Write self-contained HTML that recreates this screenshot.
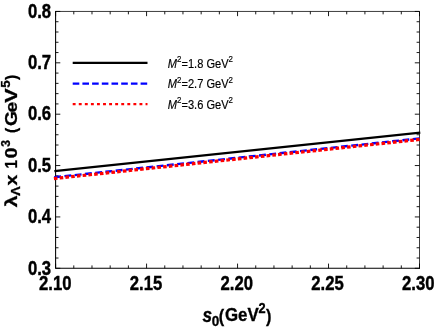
<!DOCTYPE html>
<html><head><meta charset="utf-8"><title>plot</title>
<style>
html,body{margin:0;padding:0;background:#fff;}
svg{display:block;will-change:transform;font-family:"Liberation Sans",sans-serif;}
.tk{font-size:16.7px;font-weight:bold;fill:#000;stroke:#000;stroke-width:0.35px;}
.lg{font-size:11.1px;fill:#000;stroke:#000;stroke-width:0.15px;}
.ax{font-size:17.3px;font-weight:bold;fill:#000;stroke:#000;stroke-width:0.3px;}
.ay{font-weight:bold;fill:#000;stroke:#000;stroke-width:0.3px;}
</style></head><body>
<svg width="436" height="327" viewBox="0 0 436 327">
<rect width="436" height="327" fill="#fff"/>
<path d="M55.60 11.45V268.30H419.50" fill="none" stroke="#000" stroke-width="1.05" stroke-linecap="square"/>
<path d="M55.60 11.45H419.50V268.30" fill="none" stroke="#1a1a1a" stroke-width="0.85" stroke-linecap="square"/>
<path d="M55.60 268.30v-4.7M55.60 11.45v4.7M73.79 268.30v-2.9M73.79 11.45v2.9M91.99 268.30v-2.9M91.99 11.45v2.9M110.18 268.30v-2.9M110.18 11.45v2.9M128.38 268.30v-2.9M128.38 11.45v2.9M146.57 268.30v-4.7M146.57 11.45v4.7M164.77 268.30v-2.9M164.77 11.45v2.9M182.96 268.30v-2.9M182.96 11.45v2.9M201.16 268.30v-2.9M201.16 11.45v2.9M219.35 268.30v-2.9M219.35 11.45v2.9M237.55 268.30v-4.7M237.55 11.45v4.7M255.74 268.30v-2.9M255.74 11.45v2.9M273.94 268.30v-2.9M273.94 11.45v2.9M292.13 268.30v-2.9M292.13 11.45v2.9M310.33 268.30v-2.9M310.33 11.45v2.9M328.52 268.30v-4.7M328.52 11.45v4.7M346.72 268.30v-2.9M346.72 11.45v2.9M364.91 268.30v-2.9M364.91 11.45v2.9M383.11 268.30v-2.9M383.11 11.45v2.9M401.30 268.30v-2.9M401.30 11.45v2.9M419.50 268.30v-4.7M419.50 11.45v4.7M55.60 268.30h4.7M419.50 268.30h-4.7M55.60 258.03h2.9M419.50 258.03h-2.9M55.60 247.75h2.9M419.50 247.75h-2.9M55.60 237.48h2.9M419.50 237.48h-2.9M55.60 227.20h2.9M419.50 227.20h-2.9M55.60 216.93h4.7M419.50 216.93h-4.7M55.60 206.66h2.9M419.50 206.66h-2.9M55.60 196.38h2.9M419.50 196.38h-2.9M55.60 186.11h2.9M419.50 186.11h-2.9M55.60 175.83h2.9M419.50 175.83h-2.9M55.60 165.56h4.7M419.50 165.56h-4.7M55.60 155.29h2.9M419.50 155.29h-2.9M55.60 145.01h2.9M419.50 145.01h-2.9M55.60 134.74h2.9M419.50 134.74h-2.9M55.60 124.46h2.9M419.50 124.46h-2.9M55.60 114.19h4.7M419.50 114.19h-4.7M55.60 103.92h2.9M419.50 103.92h-2.9M55.60 93.64h2.9M419.50 93.64h-2.9M55.60 83.37h2.9M419.50 83.37h-2.9M55.60 73.09h2.9M419.50 73.09h-2.9M55.60 62.82h4.7M419.50 62.82h-4.7M55.60 52.55h2.9M419.50 52.55h-2.9M55.60 42.27h2.9M419.50 42.27h-2.9M55.60 32.00h2.9M419.50 32.00h-2.9M55.60 21.72h2.9M419.50 21.72h-2.9M55.60 11.45h4.7M419.50 11.45h-4.7" stroke="#000" stroke-width="0.9" fill="none"/>
<text transform="translate(51.1 274.60) scale(1 1.190)" text-anchor="end" class="tk">0.3</text>
<text transform="translate(51.1 223.23) scale(1 1.190)" text-anchor="end" class="tk">0.4</text>
<text transform="translate(51.1 171.86) scale(1 1.190)" text-anchor="end" class="tk">0.5</text>
<text transform="translate(51.1 120.49) scale(1 1.190)" text-anchor="end" class="tk">0.6</text>
<text transform="translate(51.1 69.12) scale(1 1.190)" text-anchor="end" class="tk">0.7</text>
<text transform="translate(51.1 17.75) scale(1 1.190)" text-anchor="end" class="tk">0.8</text>
<text transform="translate(55.20 289.5) scale(1 1.170)" text-anchor="middle" class="tk">2.10</text>
<text transform="translate(145.95 289.5) scale(1 1.170)" text-anchor="middle" class="tk">2.15</text>
<text transform="translate(236.70 289.5) scale(1 1.170)" text-anchor="middle" class="tk">2.20</text>
<text transform="translate(327.45 289.5) scale(1 1.170)" text-anchor="middle" class="tk">2.25</text>
<text transform="translate(418.20 289.5) scale(1 1.170)" text-anchor="middle" class="tk">2.30</text>
<line x1="54.20" y1="177.25" x2="420.10" y2="138.34" stroke="#0000ff" stroke-width="2.4" stroke-dasharray="6.9 3.4"/>
<line x1="53.90" y1="178.58" x2="420.10" y2="139.39" stroke="#ff0000" stroke-width="3.25" stroke-dasharray="3.6 2.18"/>
<line x1="54.40" y1="171.13" x2="420.30" y2="132.62" stroke="#000" stroke-width="2.3"/>
<line x1="72.7" y1="62.9" x2="147.5" y2="62.9" stroke="#000" stroke-width="2.15"/>
<line x1="72.7" y1="83.6" x2="147.5" y2="83.6" stroke="#0000ff" stroke-width="2.3" stroke-dasharray="6.6 3.1"/>
<line x1="72.7" y1="104.1" x2="147.5" y2="104.1" stroke="#ff0000" stroke-width="2.25" stroke-dasharray="2.9 3.17"/>
<text transform="translate(167.8 67.6) scale(1 1.1)" class="lg"><tspan font-style="italic">M</tspan><tspan dy="-5.2" font-size="7.9">2</tspan><tspan dy="5.2">=1.8 GeV</tspan><tspan dy="-5.2" font-size="7.9">2</tspan></text>
<text transform="translate(167.8 88.3) scale(1 1.1)" class="lg"><tspan font-style="italic">M</tspan><tspan dy="-5.2" font-size="7.9">2</tspan><tspan dy="5.2">=2.7 GeV</tspan><tspan dy="-5.2" font-size="7.9">2</tspan></text>
<text transform="translate(167.8 108.8) scale(1 1.1)" class="lg"><tspan font-style="italic">M</tspan><tspan dy="-5.2" font-size="7.9">2</tspan><tspan dy="5.2">=3.6 GeV</tspan><tspan dy="-5.2" font-size="7.9">2</tspan></text>
<text transform="translate(202.4 321.9) scale(1 1.135)" class="ax"><tspan font-style="italic">s</tspan><tspan dy="3.5" dx="-0.3" font-size="13.6">0</tspan><tspan dy="-3.3" dx="-0.6" font-size="16.3">(</tspan><tspan dx="0.8" dy="-0.6" font-size="16.9">GeV</tspan><tspan dy="-7.5" dx="-0.3" font-size="12.8">2</tspan><tspan dy="8.1" dx="0.4" font-size="16.3">)</tspan></text>
<text transform="translate(17.20 207.30) rotate(-90) scale(1.300 1)" class="ay" font-size="16.5">λ</text>
<text transform="translate(20.30 195.80) rotate(-90) scale(1.170 1)" class="ay" font-size="12.0">Λ</text>
<text transform="translate(17.20 185.60) rotate(-90) scale(1.170 1)" class="ay" font-size="16.5">x</text>
<text transform="translate(17.20 168.40) rotate(-90) scale(0.920 1)" class="ay" font-size="16.5">1</text>
<text transform="translate(17.20 158.30) rotate(-90) scale(1.170 1)" class="ay" font-size="16.5">0</text>
<text transform="translate(9.60 146.80) rotate(-90) scale(1.000 1)" class="ay" font-size="12.0">3</text>
<text transform="translate(17.20 133.00) rotate(-90) scale(0.950 1)" class="ay" font-size="16.5">(</text>
<text transform="translate(17.20 126.10) rotate(-90) scale(1.170 1)" class="ay" font-size="16.5">G</text>
<text transform="translate(17.20 112.60) rotate(-90) scale(1.170 1)" class="ay" font-size="16.5">e</text>
<text transform="translate(17.20 102.70) rotate(-90) scale(1.300 1)" class="ay" font-size="16.5">V</text>
<text transform="translate(9.60 87.70) rotate(-90) scale(1.100 1)" class="ay" font-size="12.0">5</text>
<text transform="translate(17.20 80.00) rotate(-90) scale(0.950 1)" class="ay" font-size="16.5">)</text>
</svg>
</body></html>
